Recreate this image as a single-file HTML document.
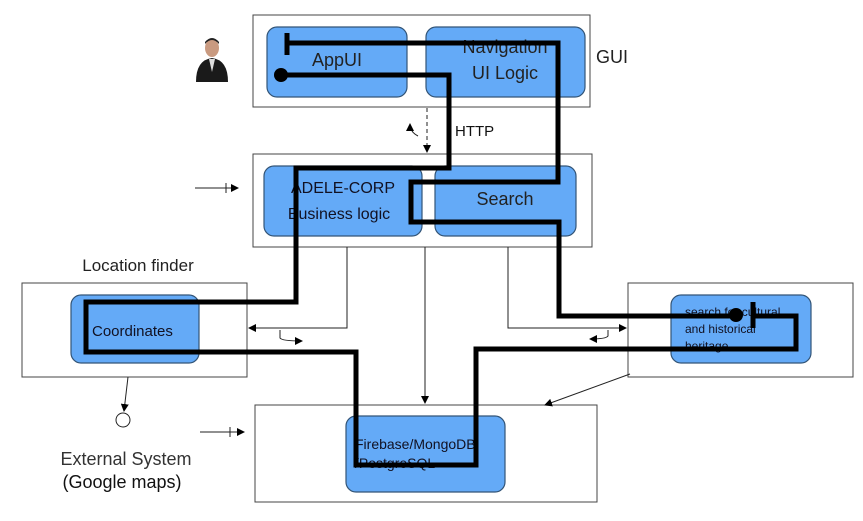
<!DOCTYPE html>
<html><head><style>body{margin:0;background:#fff}svg{display:block}</style></head><body>
<svg width="863" height="521" viewBox="0 0 863 521" xmlns="http://www.w3.org/2000/svg" font-family="Liberation Sans, sans-serif">
<defs><marker id="a" markerWidth="8" markerHeight="8" refX="7" refY="4" orient="auto"><path d="M0,0 L8,4 L0,8z" fill="#000"/></marker></defs>
<rect width="863" height="521" fill="#fff"/>
<g fill="none" stroke="#444" stroke-width="1">
<rect x="253" y="15" width="337" height="92"/>
<rect x="253" y="154" width="339" height="93"/>
<rect x="22" y="283" width="225" height="94"/>
<rect x="628" y="283" width="225" height="94"/>
<rect x="255" y="405" width="342" height="97"/>
</g>
<g fill="#64aaf7" stroke="#335577" stroke-width="1.2">
<rect x="267" y="27" width="140" height="70" rx="10"/>
<rect x="426" y="27" width="159" height="70" rx="10"/>
<rect x="264" y="166" width="158" height="70" rx="10"/>
<rect x="435" y="166" width="141" height="70" rx="10"/>
<rect x="71" y="295" width="128" height="68" rx="10"/>
<rect x="671" y="295" width="140" height="68" rx="10"/>
<rect x="346" y="416" width="159" height="76" rx="10"/>
</g>
<g fill="#222" font-size="18" text-anchor="middle">
<text x="337" y="66">AppUI</text>
<text x="505" y="53">Navigation</text>
<text x="505" y="79">UI Logic</text>
<text x="505" y="205">Search</text>
<text x="612" y="63">GUI</text>
</g>
<g fill="#112" font-size="16" text-anchor="middle">
<text x="343" y="193">ADELE-CORP</text>
<text x="339" y="219">Business logic</text>
</g>
<text x="92" y="336" font-size="15" fill="#112">Coordinates</text>
<text x="355" y="449" font-size="14" fill="#112">Firebase/MongoDB</text>
<text x="355" y="468" font-size="14" fill="#112">/PostgreSQL</text>
<g font-size="12" fill="#112"><text x="685" y="316">search for cultural</text><text x="685" y="333">and historical</text><text x="685" y="350">heritage</text></g>
<text x="455" y="136" font-size="15" fill="#111">HTTP</text>
<text x="138" y="271" font-size="17" fill="#222" text-anchor="middle">Location finder</text>
<text x="126" y="465" font-size="18" fill="#333" text-anchor="middle">External System</text>
<text x="122" y="488" font-size="18" fill="#111" text-anchor="middle">(Google maps)</text>
<g stroke="#222" stroke-width="1" fill="none">
<line x1="427" y1="108" x2="427" y2="152" stroke-dasharray="4,3" marker-end="url(#a)"/>
<path d="M418,136 Q410,132 410,124" marker-end="url(#a)"/>
<path d="M347,247 V328 H249" marker-end="url(#a)"/>
<path d="M425,247 V403" marker-end="url(#a)"/>
<path d="M508,247 V328 H626" marker-end="url(#a)"/>
<path d="M280,330 V338 Q282,341 302,341" marker-end="url(#a)"/>
<path d="M608,330 V336 Q606,339 590,339" marker-end="url(#a)"/>
<line x1="630" y1="374" x2="545" y2="405" marker-end="url(#a)"/>
<line x1="128" y1="377" x2="124" y2="411" marker-end="url(#a)"/>
<circle cx="123" cy="420" r="7"/>
<line x1="195" y1="188" x2="238" y2="188" marker-end="url(#a)"/><line x1="226" y1="183" x2="226" y2="193"/>
<line x1="200" y1="432" x2="244" y2="432" marker-end="url(#a)"/><line x1="230" y1="427" x2="230" y2="437"/>
</g>
<g stroke="#000" stroke-width="5" fill="none">
<line x1="287" y1="33" x2="287" y2="55"/>
<path d="M287,43 H558 V182 H411 V222 H559 V316 H736"/>
<path d="M281,75 H449 V168 H296 V302 H86 V352 H356 V465 H476 V349 H796 V316 H753"/>
<line x1="753" y1="302" x2="753" y2="328"/>
</g>
<circle cx="281" cy="75" r="7" fill="#000"/>
<circle cx="736" cy="315" r="7" fill="#000"/>
<g>
<ellipse cx="212" cy="48" rx="7" ry="9" fill="#c99a80"/>
<path d="M205,44 Q212,36 219,44 L219,42 Q212,34 205,42z" fill="#222"/>
<path d="M196,82 Q196,60 212,58 Q228,60 228,82z" fill="#1a1a1a"/>
<path d="M209,59 L212,72 L215,59z" fill="#ddd"/>
</g>
</svg>
</body></html>
